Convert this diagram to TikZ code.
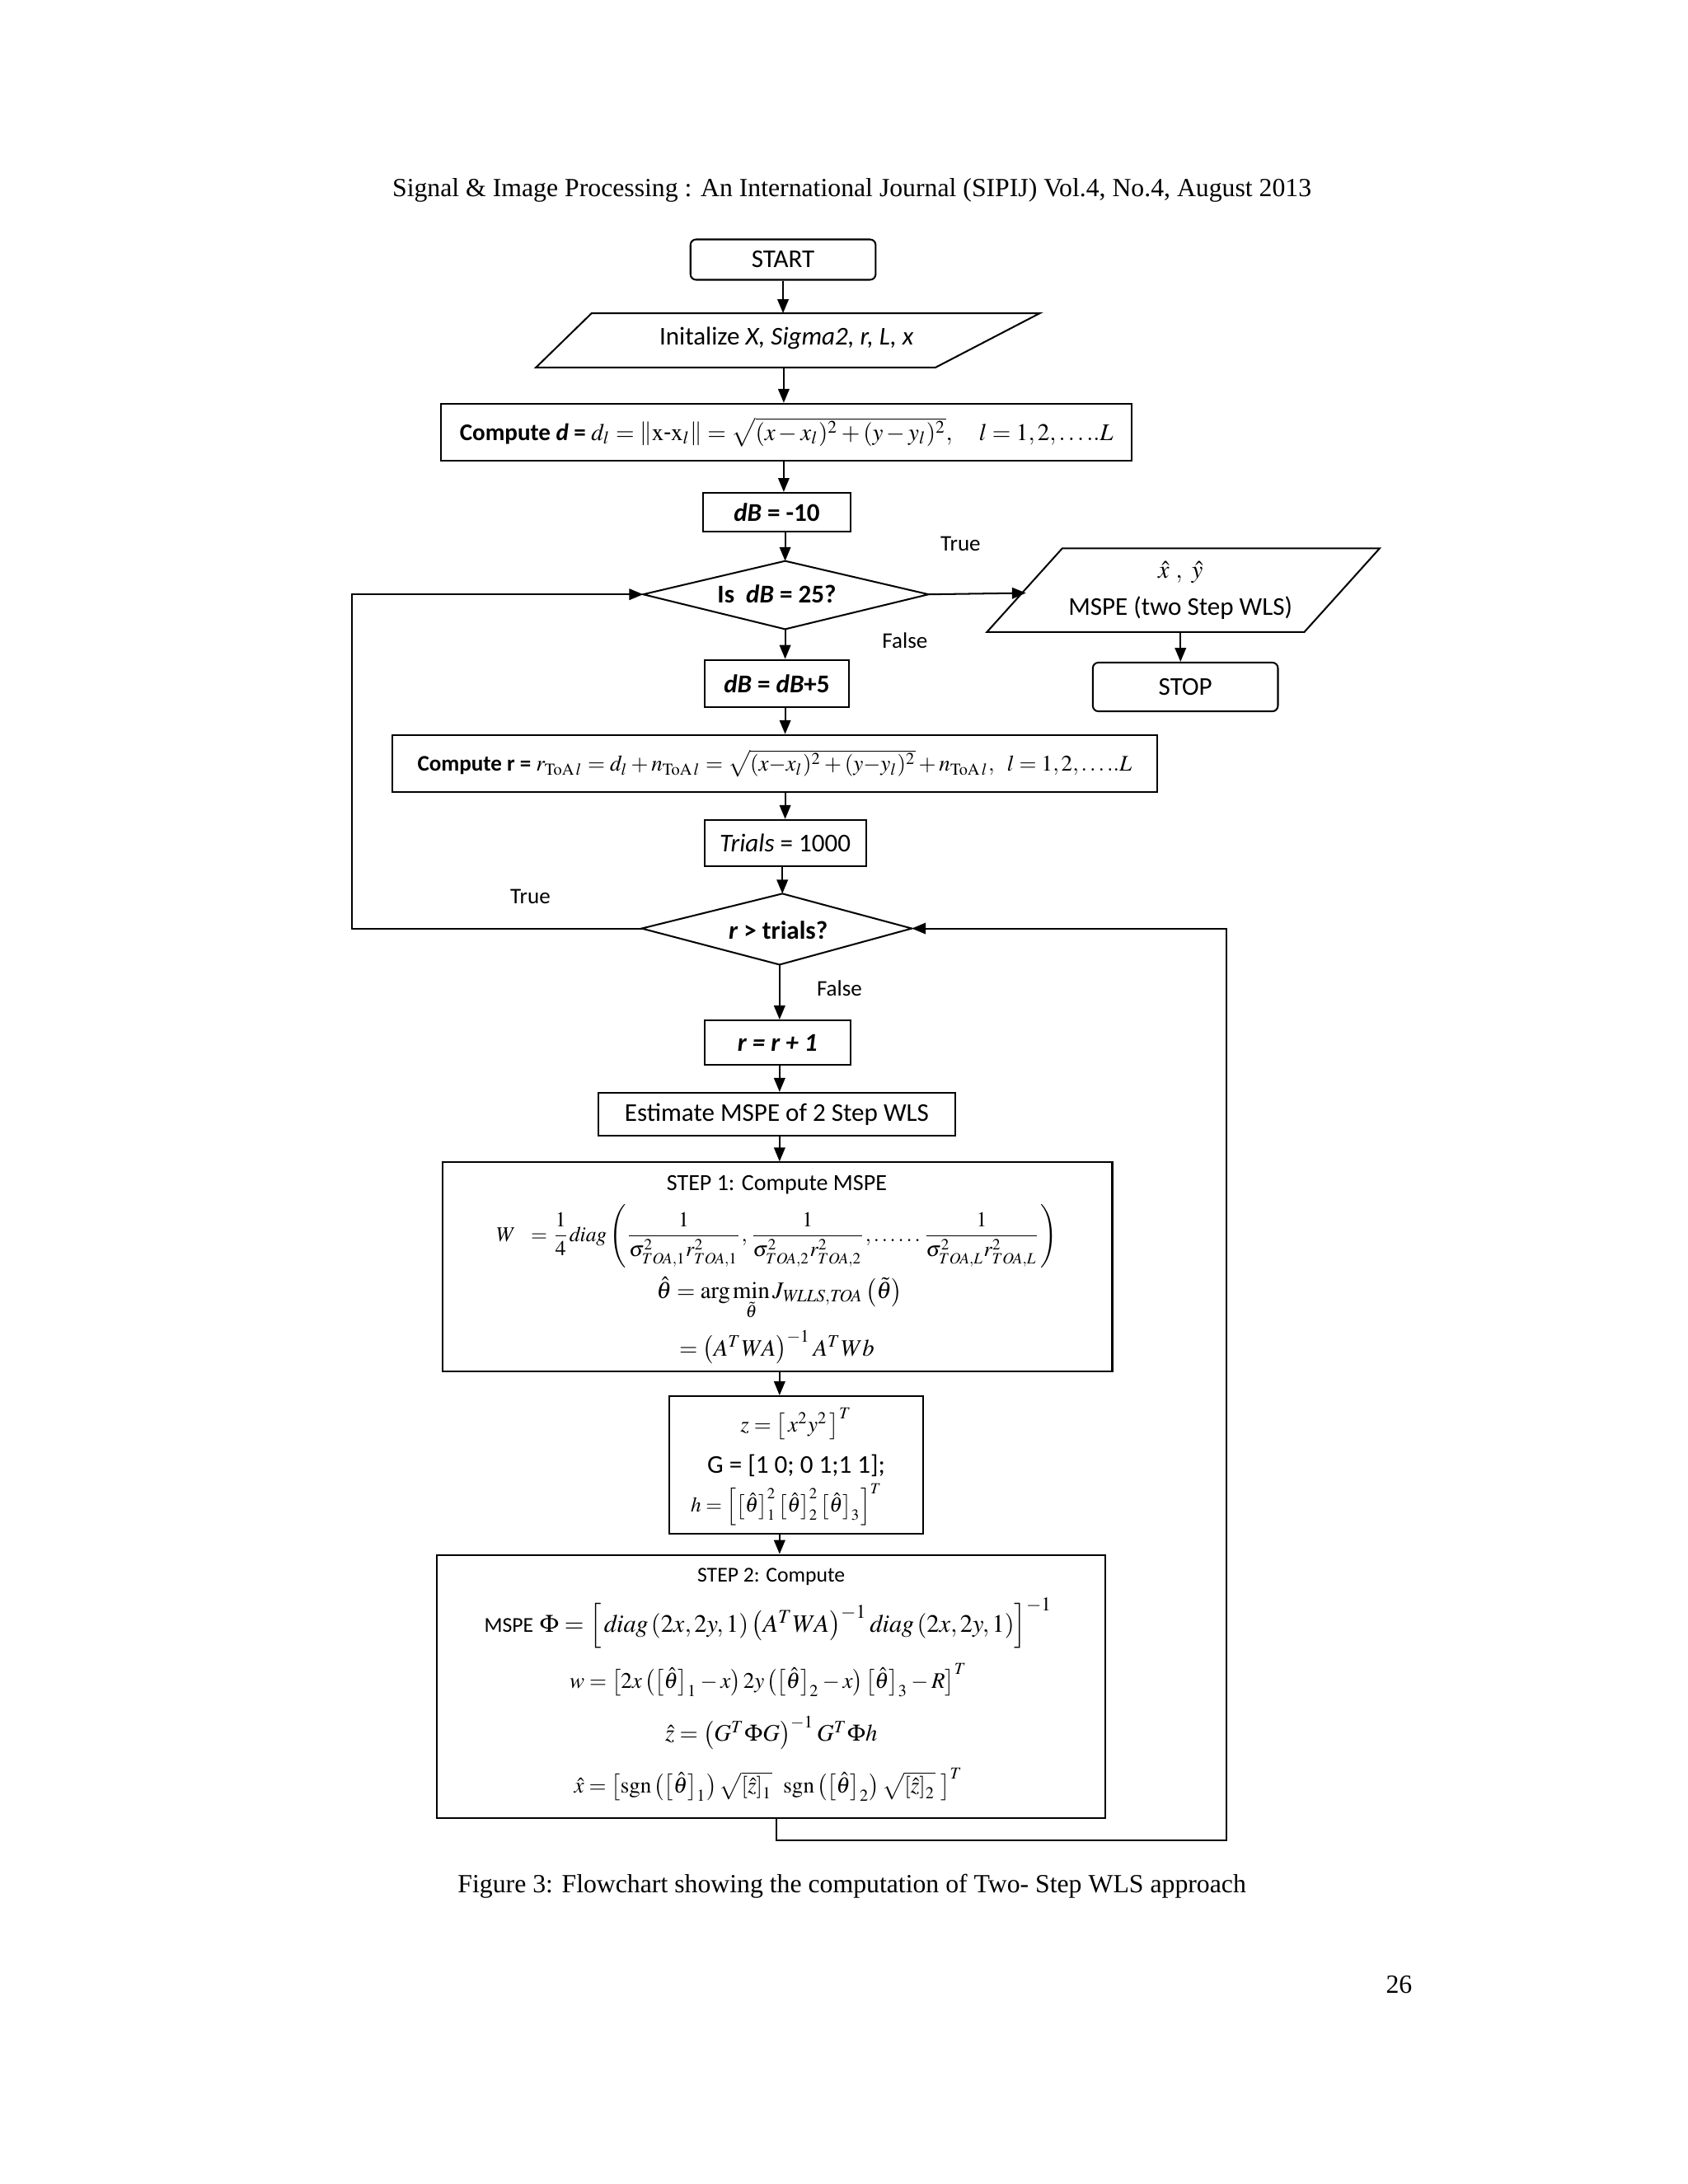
\documentclass[tikz,border=0pt]{standalone}
\usepackage{amsmath}
\usepackage{mathptmx}
\usepackage{fontspec}
\setmainfont{Liberation Serif}
\newfontfamily\cfont{Carlito}
\usetikzlibrary{arrows.meta,calc}
\begin{document}
\begin{tikzpicture}[x=0.5pt,y=-0.5pt,
  box/.style={draw,line width=0.6pt,inner sep=0pt,font=\cfont\fontsize{9.2}{11}\selectfont,align=center},
  rbox/.style={box,rounded corners=2pt},
  lab/.style={font=\cfont\fontsize{8}{9.5}\selectfont},
  txt/.style={font=\cfont\fontsize{9.2}{11}\selectfont},
  arr/.style={-{Triangle[length=5pt,width=4pt]},line width=0.6pt},
  ln/.style={line width=0.6pt}]
\useasboundingbox (0,0) rectangle (1212,1569);
\node[font=\fontsize{9.4}{11}\selectfont] (hdr) at (612,137) {Signal \& Image Processing : An International Journal (SIPIJ) Vol.4, No.4, August 2013};
\node[rbox,minimum width=66.5pt,minimum height=14.5pt] (start) at (562.5,186.5) {START};
% initialize parallelogram
\draw[ln] (425,225) -- (747,225) -- (672,264) -- (385,264) -- cycle;
\coordinate (initT) at (563,225); \coordinate (initB) at (563,264);
\node[txt] (init) at (565,243) {Initalize \textit{X, Sigma2, r, L, x}};
\node[box,minimum width=248pt,minimum height=20.5pt,font=\cfont\fontsize{8.6}{10}\selectfont] (cd) at (565,310.5) {\textbf{Compute \textit{d} =} $d_l=\left\|\mathrm{x}\text{-}\mathrm{x}_l\right\|=\sqrt{(x-x_l)^2+(y-y_l)^2},\quad l=1,2,\ldots..L$};
\node[box,minimum width=53pt,minimum height=14pt] (db0) at (558,368) {\textbf{\textit{dB} = -10}};
% diamond 1
\draw[ln] (462,427) coordinate (d1L) -- (564,403) coordinate (d1T) -- (667,427) coordinate (d1R) -- (564,452) coordinate (d1B) -- cycle;
\node[font=\cfont\bfseries\fontsize{9.2}{11}\selectfont] (d1) at (558,427) {Is \ \textit{dB} = 25?};
% output parallelogram
\draw[ln] (763,394) -- (991,394) -- (937,454) -- (709,454) -- cycle;
\coordinate (outL) at (737,426); \coordinate (outB) at (848,454);
\node[font=\fontsize{9}{10}\selectfont,inner sep=1pt] (xy) at (848,411) {$\hat{x}\ ,\ \hat{y}$};
\node[txt,inner sep=1pt] (mspe) at (848,437) {MSPE (two Step WLS)};
\node[rbox,minimum width=66.5pt,minimum height=17.5pt] (stop) at (851.5,493.5) {STOP};
\node[lab] (t1) at (690,391) {True};
\node[lab] (f1) at (650,460) {False};
\node[box,minimum width=52pt,minimum height=17pt] (db5) at (558,491) {\textbf{\textit{dB} = \textit{dB}+5}};
\node[box,minimum width=274.5pt,minimum height=20.5pt,font=\cfont\fontsize{8}{10}\selectfont] (cr) at (556.5,548.5) {\textbf{Compute r =} $r_{\mathrm{ToA}\,l}=d_l+n_{\mathrm{ToA}\,l}=\sqrt{(x{-}x_l)^2+(y{-}y_l)^2}+n_{\mathrm{ToA}\,l},\ \ l=1,2,\ldots..L$};
\node[box,minimum width=58pt,minimum height=16.5pt] (tr) at (564,605.5) {\textit{Trials} = 1000};
% diamond 2
\draw[ln] (461,667) coordinate (d2L) -- (562,642) coordinate (d2T) -- (655,667) coordinate (d2R) -- (560,693) coordinate (d2B) -- cycle;
\node[font=\cfont\bfseries\fontsize{9.2}{11}\selectfont] (d2) at (559,668) {\textit{r} > trials?};
\node[lab] (t2) at (381,644) {True};
\node[lab] (f2) at (603,710) {False};
\node[box,minimum width=52.5pt,minimum height=16pt] (rr) at (558.5,749) {\textbf{\textit{r = r + 1}}};
\node[box,minimum width=128pt,minimum height=15.5pt] (est) at (558,800.5) {Estimate MSPE of 2 Step WLS};
\node[box,minimum width=240.5pt,minimum height=75pt] (s1) at (558.5,910) {};
\node[font=\cfont\fontsize{8.3}{10}\selectfont] (s1a) at (558,851) {STEP 1: Compute MSPE};
\node[font=\fontsize{7.6}{9}\selectfont] (s1b) at (558,888) {$W\ \ =\dfrac{1}{4}\mathit{diag}\left(\dfrac{1}{\sigma^2_{TOA,1}r^2_{TOA,1}},\dfrac{1}{\sigma^2_{TOA,2}r^2_{TOA,2}},\ldots\ldots\dfrac{1}{\sigma^2_{TOA,L}r^2_{TOA,L}}\right)$};
\node[font=\fontsize{8.5}{10}\selectfont] (s1c) at (560,933) {$\hat{\theta}=\arg\min\limits_{\tilde\theta}J_{\mathit{WLLS,TOA}}\left(\tilde{\theta}\right)$};
\node[font=\fontsize{8.5}{10}\selectfont] (s1d) at (558,968) {$=\left(A^TWA\right)^{-1}A^TWb$};
\node[box,minimum width=91pt,minimum height=49.5pt] (zb) at (572,1052.5) {};
\node[font=\fontsize{8}{9}\selectfont] (za) at (572,1023) {$z=\left[\,x^2y^2\,\right]^T$};
\node[txt] (zg) at (572,1053) {G = [1 0; 0 1;1 1];};
\node[font=\fontsize{7.5}{8}\selectfont] (zh) at (565,1081) {$h=\left[\left[\hat\theta\right]_1^2\left[\hat\theta\right]_2^2\left[\hat\theta\right]_3\right]^T$};
\node[box,minimum width=240pt,minimum height=94.5pt] (s2) at (554,1211.5) {};
\node[font=\cfont\fontsize{7.6}{9}\selectfont] (s2a) at (554,1133) {STEP 2: Compute};
\node[font=\fontsize{9}{10}\selectfont] (s2b) at (552,1166) {{\cfont\fontsize{7.6}{8}\selectfont MSPE} $\Phi=\left[\,\mathit{diag}\left(2x,2y,1\right)\left(A^TWA\right)^{-1}\mathit{diag}\left(2x,2y,1\right)\right]^{-1}$};
\node[font=\fontsize{8}{9}\selectfont] (s2c) at (552,1207) {$w=\left[2x\left(\left[\hat\theta\right]_1-x\right)2y\left(\left[\hat\theta\right]_2-x\right)\left[\hat\theta\right]_3-R\right]^T$};
\node[font=\fontsize{8.5}{9}\selectfont] (s2d) at (554,1245) {$\hat{z}=\left(G^T\Phi G\right)^{-1}G^T\Phi h$};
\node[font=\fontsize{8}{9}\selectfont] (s2e) at (552,1282) {$\hat{x}=\left[\mathrm{sgn}\left(\left[\hat\theta\right]_1\right)\sqrt{\left[\hat z\right]_1}\ \ \mathrm{sgn}\left(\left[\hat\theta\right]_2\right)\sqrt{\left[\hat z\right]_2}\ \right]^T$};
\node[font=\fontsize{9.4}{11}\selectfont] (cap) at (612,1355) {Figure 3: Flowchart showing the computation of Two- Step WLS approach};
\node[font=\fontsize{9.4}{11}\selectfont] (pg) at (1005,1426) {26};
% connectors
\coordinate (cz) at (560,0);
\coordinate (cs) at (558,0);
\draw[arr] (start.south) -- (start.south |- initT);
\draw[arr] (initB) -- (initB |- cd.north);
\draw[arr] (cd.south -| initB) -- (initB |- db0.north);
\draw[arr] (db0.south -| d1T) -- (d1T);
\draw[arr] (d1R) -- (outL);
\draw[arr] (outB) -- (outB |- stop.north);
\draw[arr] (d1B) -- (d1B |- db5.north);
\draw[arr] (db5.south -| d1B) -- (d1B |- cr.north);
\draw[arr] (cr.south -| d1B) -- (d1B |- tr.north);
\draw[arr] (tr.south -| d2T) -- (d2T);
\draw[arr] (d2L) -- (253,667) coordinate (lp1) -- (253,427) coordinate (lp2) -- (d1L);
\draw[arr] (d2B) -- (d2B |- rr.north);
\draw[arr] (rr.south -| d2B) -- (d2B |- est.north);
\draw[arr] (est.south -| d2B) -- (d2B |- s1.north);
\draw[arr] (s1.south -| d2B) -- (d2B |- zb.north);
\draw[arr] (zb.south -| cz) -- (cz |- s2.north);
\draw[arr] (s2.south -| cs) -- (558,1322) coordinate (lp3) -- (881,1322) coordinate (lp4) -- (881,667) coordinate (lp5) -- (d2R);
\end{tikzpicture}
\end{document}
